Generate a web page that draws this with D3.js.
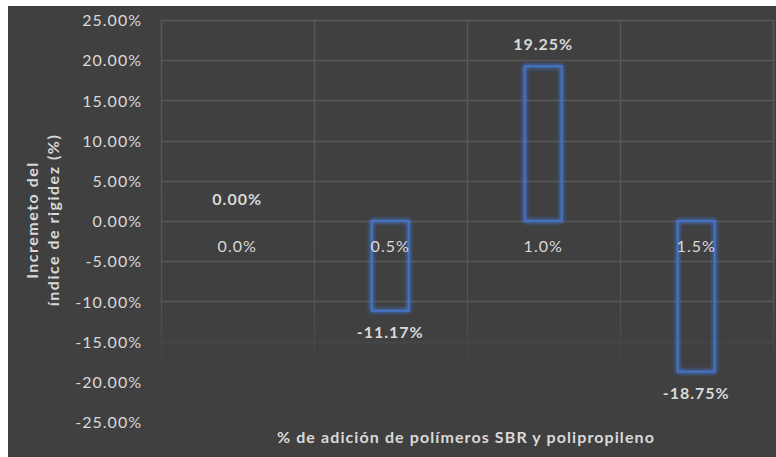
<!DOCTYPE html>
<html>
<head>
<meta charset="utf-8">
<script src="https://cdn.jsdelivr.net/npm/d3@7"></script>
<style>
  body { margin: 0; background: #ffffff; }
  svg { display: block; }
</style>
</head>
<body>
<div id="contenedor"></div>
<script>
// datos
var categorias = ["0.0%", "0.5%", "1.0%", "1.5%"]
var valores = [0.00, -11.17, 19.25, -18.75]
var ticksY = [25, 20, 15, 10, 5, 0, -5, -10, -15, -20, -25]

var ancho = 776
var alto = 457
var fuente = "Lato, 'Open Sans', sans-serif"
var colorTexto = "#d9d9d9"

// formato con guion normal
var loc = d3.formatLocale({ decimal: ".", thousands: ",", grouping: [3], currency: ["", ""], minus: "-" })
var pct = function(d) { return loc.format(".2f")(d) + "%" }

var svg = d3.select("#contenedor")
    .append("svg")
    .attr("width", ancho)
    .attr("height", alto)

// fondo del grafico
svg.append("rect")
    .attr("x", 8).attr("y", 6)
    .attr("width", ancho - 8).attr("height", alto - 6)
    .attr("fill", "#404040")

var defs = svg.append("defs")

var brillo = defs.append("filter").attr("id", "brillo")
    .attr("x", "-50%").attr("y", "-20%").attr("width", "200%").attr("height", "140%")
brillo.append("feGaussianBlur").attr("in", "SourceGraphic").attr("stdDeviation", 2.2).attr("result", "b")
var mezcla = brillo.append("feMerge")
mezcla.append("feMergeNode").attr("in", "b")
mezcla.append("feMergeNode").attr("in", "b")
mezcla.append("feMergeNode").attr("in", "SourceGraphic")

var grad = defs.append("linearGradient").attr("id", "desvanece")
    .attr("gradientUnits", "userSpaceOnUse")
    .attr("x1", 0).attr("y1", 20).attr("x2", 0).attr("y2", 422)
grad.append("stop").attr("offset", "0%").attr("stop-color", "#5a5a5a")
grad.append("stop").attr("offset", "68%").attr("stop-color", "#555555")
grad.append("stop").attr("offset", "88%").attr("stop-color", "#404040")

// ESCALAS
var x = d3.scaleBand()
    .domain(categorias)
    .range([160.7, 772.7])
    .paddingInner(0).paddingOuter(0)

var y = d3.scaleLinear()
    .domain([-25, 25])
    .range([422, 20])

// rejilla horizontal
svg.selectAll(".gh")
    .data(ticksY)
    .enter()
    .append("line")
    .attr("x1", 160.7).attr("x2", 772.7)
    .attr("y1", function(d) { return Math.round(y(d)) + 0.5 })
    .attr("y2", function(d) { return Math.round(y(d)) + 0.5 })
    .attr("stroke", function(d) { return d >= -10 ? "#595959" : (d == -15 ? "#474747" : "none") })
    .attr("stroke-width", 1.3)

// rejilla vertical
var bordes = categorias.map(function(c) { return x(c) }).concat([x.range()[1]])
svg.selectAll(".gv")
    .data(bordes)
    .enter()
    .append("line")
    .attr("x1", function(d) { return Math.round(d) + 0.5 })
    .attr("x2", function(d) { return Math.round(d) + 0.5 })
    .attr("y1", 20).attr("y2", 422)
    .attr("stroke", "url(#desvanece)")
    .attr("stroke-width", 1.3)

// eje Y
var ejeY = d3.axisLeft(y)
    .tickValues(ticksY)
    .tickSize(0)
    .tickPadding(0)
    .tickFormat(pct)

var gEje = svg.append("g")
    .attr("transform", "translate(142,0)")
    .call(ejeY)
gEje.select(".domain").remove()
gEje.selectAll("text")
    .attr("fill", colorTexto)
    .attr("font-family", fuente)
    .attr("font-size", 16)
    .attr("letter-spacing", 1)
    .attr("dy", "0.35em")

// barras
var ancho_barra = 37
svg.selectAll(".barra")
    .data(valores)
    .enter()
    .append("rect")
    .attr("x", function(d, i) { return x(categorias[i]) + x.bandwidth() / 2 - ancho_barra / 2 })
    .attr("y", function(d) { return y(Math.max(0, d)) })
    .attr("width", ancho_barra)
    .attr("height", function(d) { return Math.abs(y(d) - y(0)) })
    .attr("fill", "none")
    .attr("stroke", function(d) { return d == 0 ? "none" : "#4472c4" })
    .attr("stroke-width", 2)
    .attr("filter", "url(#brillo)")

// etiquetas de categoria
svg.selectAll(".cat")
    .data(categorias)
    .enter()
    .append("text")
    .attr("x", function(d) { return x(d) + x.bandwidth() / 2 })
    .attr("y", y(0) + 25)
    .attr("text-anchor", "middle")
    .attr("dy", "0.35em")
    .attr("fill", colorTexto)
    .attr("font-family", fuente)
    .attr("font-size", 16)
    .attr("letter-spacing", 1)
    .text(function(d) { return d })

// etiquetas de valor
svg.selectAll(".val")
    .data(valores)
    .enter()
    .append("text")
    .attr("x", function(d, i) { return x(categorias[i]) + x.bandwidth() / 2 })
    .attr("y", function(d) { return d >= 0 ? y(d) - 22 : y(d) + 22 })
    .attr("text-anchor", "middle")
    .attr("dy", "0.35em")
    .attr("fill", colorTexto)
    .attr("font-family", fuente)
    .attr("font-weight", "bold")
    .attr("font-size", 16)
    .attr("letter-spacing", 1)
    .text(pct)

// titulos de ejes
svg.append("text")
    .attr("x", 466).attr("y", 437)
    .attr("text-anchor", "middle")
    .attr("dy", "0.35em")
    .attr("fill", colorTexto)
    .attr("font-family", fuente)
    .attr("font-weight", "bold")
    .attr("font-size", 16)
    .attr("letter-spacing", 1.1)
    .text("% de adición de polímeros SBR y polipropileno")

var tituloY = svg.append("text")
    .attr("transform", "translate(43,220) rotate(-90)")
    .attr("text-anchor", "middle")
    .attr("fill", colorTexto)
    .attr("font-family", fuente)
    .attr("font-weight", "bold")
    .attr("font-size", 16)
    .attr("letter-spacing", 1.5)
tituloY.append("tspan").attr("x", 0).attr("y", -5).text("Incremeto del")
tituloY.append("tspan").attr("x", 0).attr("y", 16).text("índice de rigidez (%)")
</script>
</body>
</html>
